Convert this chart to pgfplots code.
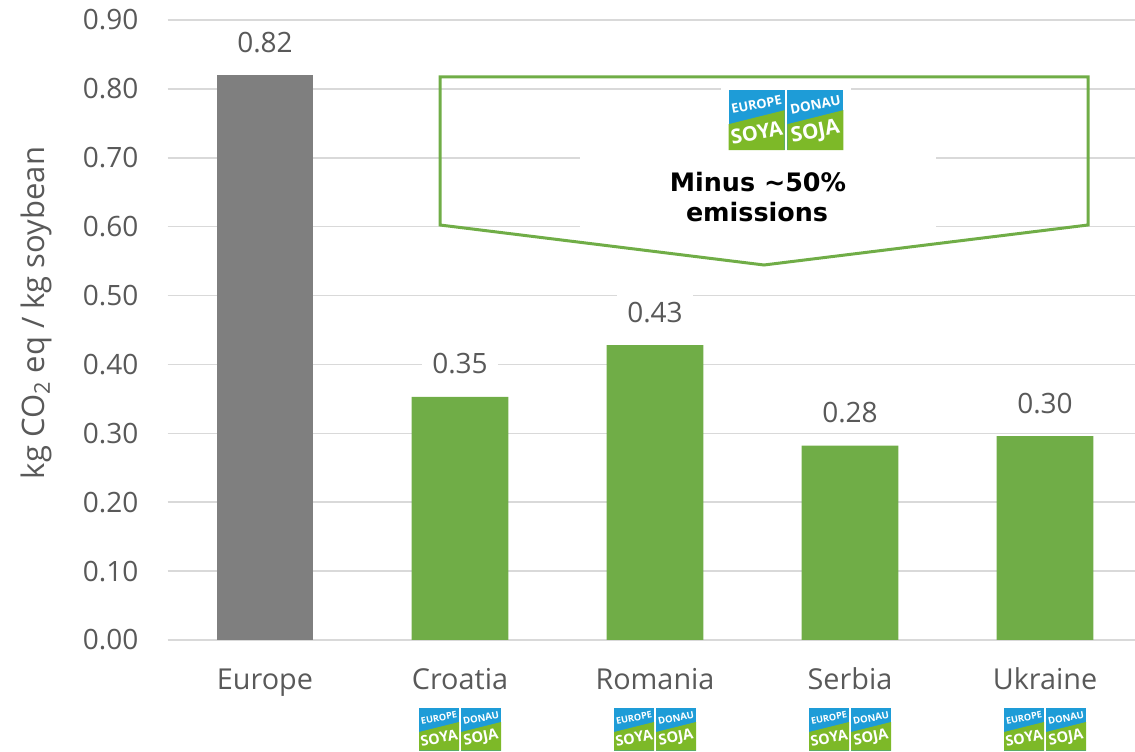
\documentclass[border=0pt]{standalone}
\usepackage{pgfplots}
\pgfplotsset{compat=1.18}
\usepackage{fontspec}
\setmainfont{Open Sans}
\newfontfamily\boxfont{DejaVu Sans}
\definecolor{txt}{HTML}{595959}
\definecolor{gridc}{HTML}{D9D9D9}
\definecolor{barg}{HTML}{7F7F7F}
\definecolor{bargreen}{HTML}{70AD47}
\definecolor{logoblue}{HTML}{1E9CD7}
\definecolor{logogreen}{HTML}{7DB928}

\newcommand{\soylogo}[3]{%
  \begin{scope}[shift={(#1,#2)}, scale=#3, transform shape]
    \fill[logoblue] (-41,-21.5) rectangle (-1,21.5);
    \fill[logogreen] (-41,3) -- (-1,-7) -- (-1,21.5) -- (-41,21.5) -- cycle;
    \node[text=white, font=\fontsize{4.6}{5}\selectfont\bfseries, rotate=11, inner sep=0] at (-21,-11) {EUROPE};
    \node[text=white, font=\fontsize{7.2}{8}\selectfont\bfseries, rotate=11, inner sep=0] at (-21,9) {SOYA};
    \fill[logoblue] (1,-21.5) rectangle (41,21.5);
    \fill[logogreen] (1,3) -- (41,-7) -- (41,21.5) -- (1,21.5) -- cycle;
    \node[text=white, font=\fontsize{4.8}{5}\selectfont\bfseries, rotate=11, inner sep=0] at (21,-11) {DONAU};
    \node[text=white, font=\fontsize{7.4}{8}\selectfont\bfseries, rotate=11, inner sep=0] at (21,9) {SOJA};
  \end{scope}}

\begin{document}
\begin{tikzpicture}
\begin{axis}[
  width=487.5pt, height=310pt, scale only axis,
  xmin=-0.5, xmax=4.5, ymin=0, ymax=0.9,
  axis line style={draw=none},
  major tick length=0pt,
  ymajorgrids, grid style={gridc, line width=0.75pt},
  ytick={0,0.1,0.2,0.3,0.4,0.5,0.6,0.7,0.8,0.9},
  xtick={0,1,2,3,4},
  xticklabels={Europe,Croatia,Romania,Serbia,Ukraine},
  /pgf/number format/assume math mode=true,
  yticklabel style={/pgf/number format/fixed, /pgf/number format/zerofill, /pgf/number format/precision=2,
     font=\fontsize{14}{16}\selectfont, text=txt, xshift=-11pt},
  xticklabel style={font=\fontsize{14.4}{16}\selectfont, text=txt, anchor=base, yshift=-25pt},
  ylabel={kg CO\textsubscript{2} eq / kg soybean},
  ylabel style={at={(rel axis cs:-0.1349,0.5274)}, anchor=center, font=\fontsize{15.5}{17}\selectfont, text=txt},
  ybar, bar width=0.497, bar shift=0pt,
  nodes near coords,
  nodes near coords style={/pgf/number format/fixed, /pgf/number format/zerofill, /pgf/number format/precision=2},
  every node near coord/.append style={anchor=base, yshift=11.5pt, fill=white, inner xsep=5pt, inner ysep=4pt,
     font=\fontsize{14}{16}\selectfont, text=txt},
  clip=false,
]
\addplot[fill=barg, draw=none] coordinates {(0,0.82)};
\addplot[fill=bargreen, draw=none] coordinates {(1,0.353) (2,0.428) (3,0.282) (4,0.296)};
\coordinate (P00) at (rel axis cs:-0.171795,1.032258);
\coordinate (P11) at (rel axis cs:0.992308,-0.180645);
\end{axis}
\begin{scope}[shift={(P00)}, x=0.5pt, y=-0.5pt]
  \fill[white] (580,152) rectangle (936,231);
  \fill[white] (721,80) rectangle (851,151);
  \draw[bargreen, line width=1.5pt, line join=miter] (440,77) -- (1088,77) -- (1088,225) -- (764,265) -- (440,225) -- cycle;
  \node[anchor=base, font=\boxfont\fontsize{12.7}{15}\selectfont\bfseries, text=black, inner sep=0] at (758,192) {Minus \textasciitilde50\%};
  \node[anchor=base, font=\boxfont\fontsize{12.7}{15}\selectfont\bfseries, text=black, inner sep=0] at (757,222) {emissions};
  \soylogo{786}{120}{1.4}
  \soylogo{460}{729}{1}
  \soylogo{655}{729}{1}
  \soylogo{850}{729}{1}
  \soylogo{1045}{729}{1}
\end{scope}
\pgfresetboundingbox
\path[use as bounding box] (P00) rectangle (P11);
\end{tikzpicture}
\end{document}
